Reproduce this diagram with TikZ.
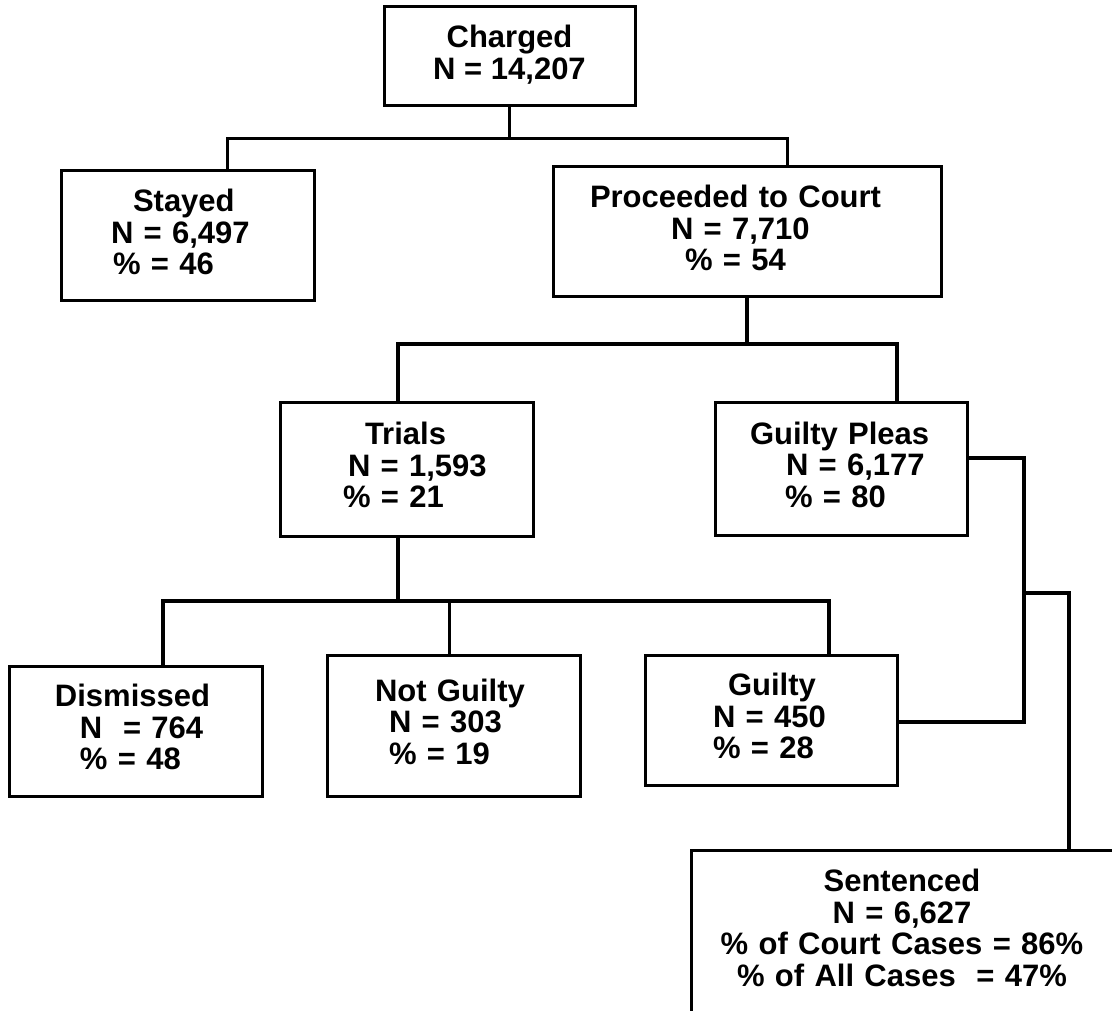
\documentclass[tikz,border=0pt]{standalone}
\usepackage{fontspec}
\setmainfont{Liberation Sans}
\usetikzlibrary{calc}
\newcommand{\lpad}[1]{\hspace*{#1pt}}

\begin{document}
\begin{tikzpicture}[x=1pt, y=-1pt,
      casebox/.style={rectangle, draw=black, line width=3pt, inner sep=0pt, font=\fontsize{31}{31.5}\selectfont\bfseries,
        execute at end node={\rule[-8pt]{0pt}{8pt}}},
      link/.style={line width=3pt},
      thicklink/.style={line width=4pt},
      ]
      \useasboundingbox (0,0) rectangle (1112,1011);
      %Nodes
      \node[casebox, align=center, minimum width=251pt, minimum height=99pt] (charged) at (509.5,56.5) {Charged\\N = 14,207};
      \node[casebox, align=left, text width=253pt, minimum height=130pt] (stayed) at (187.5,236) {\lpad{72}Stayed\\\lpad{50}N = 6,497\\\lpad{52}\% = 46};
      \node[casebox, align=left, text width=388pt, minimum height=130pt] (proceeded) at (747,232) {\lpad{37}Proceeded to Court\\\lpad{118}N = 7,710\\\lpad{132}\% = 54};
      \node[casebox, align=left, text width=253pt, minimum height=134pt] (trials) at (406.5,469) {\lpad{85}Trials\\\lpad{68}N = 1,593\\\lpad{63}\% = 21};
      \node[casebox, align=left, text width=252pt, minimum height=133pt] (pleas) at (841,468.5) {\lpad{35}Guilty Pleas\\\lpad{71}N = 6,177\\\lpad{70}\% = 80};
      \node[casebox, align=left, text width=253pt, minimum height=130pt] (dismissed) at (135.5,731) {\lpad{46}Dismissed\\\lpad{71}N\ \ = 764\\\lpad{71}\% = 48};
      \node[casebox, align=left, text width=253pt, minimum height=141pt] (notguilty) at (453.5,725.5) {\lpad{48}Not Guilty\\\lpad{62}N = 303\\\lpad{62}\% = 19};
      \node[casebox, align=left, text width=252pt, minimum height=130pt] (guilty) at (771,720) {\lpad{83}Guilty\\\lpad{68}N = 450\\\lpad{68}\% = 28};
      \node[casebox, align=center, text width=422pt, minimum height=164pt] (sentenced) at (902,932) {Sentenced\\N = 6,627\\\% of Court Cases = 86\%\\\% of All Cases\ \ = 47\%};

      %Lines
      \coordinate (barAl) at (227,139);
      \coordinate (barAr) at (787,139);
      \draw[link] (charged.south) -- (charged.south |- barAl);
      \draw[link] (stayed.north -| barAl) -- (barAl) -- (barAr) -- (proceeded.north -| barAr);

      \coordinate (barBl) at (398,344);
      \coordinate (barBr) at (897,344);
      \draw[thicklink] (proceeded.south) -- (proceeded.south |- barBl);
      \draw[thicklink] (trials.north -| barBl) -- (barBl) -- (barBr) -- (pleas.north -| barBr);

      \coordinate (barCl) at (163,601);
      \coordinate (barCr) at (829,601);
      \draw[thicklink] (trials.south -| barBl) -- (barBl |- barCl);
      \draw[thicklink] (dismissed.north -| barCl) -- (barCl) -- (barCr) -- (guilty.north -| barCr);
      \draw[link] ($(barCl)!0.43!(barCr)$) -- (notguilty.north -| {$(barCl)!0.43!(barCr)$});

      \coordinate (pleaT) at (1024,458);
      \coordinate (pleaB) at (1024,722);
      \coordinate (sentJ) at (1069,593);
      \draw[thicklink] (pleaT -| pleas.east) -- (pleaT) -- (pleaB) -- (pleaB -| guilty.east);
      \draw[thicklink] (pleaT |- sentJ) -- (sentJ) -- (sentJ |- sentenced.north);
    \end{tikzpicture}
\end{document}
